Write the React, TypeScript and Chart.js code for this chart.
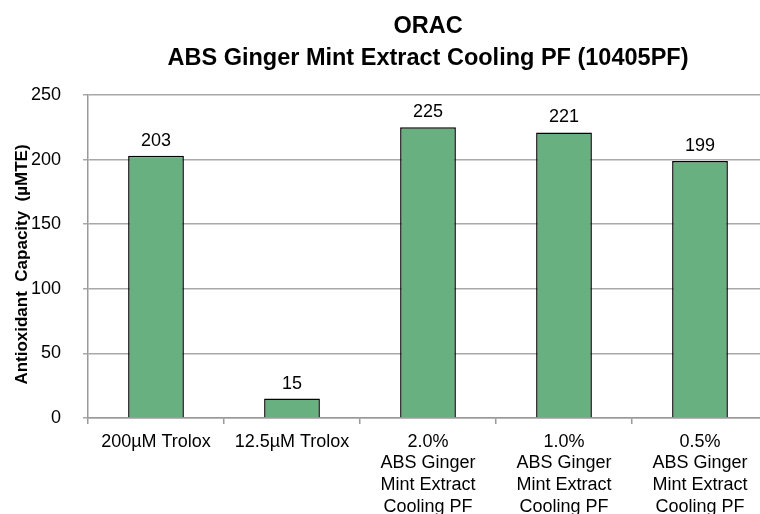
import React, { useEffect, useRef } from "react";
import { Chart, registerables } from "chart.js";

Chart.register(...registerables);

const titleLines = ["ORAC", "ABS Ginger Mint Extract Cooling PF (10405PF)"];
const categories: string[][] = [
  ["200µM Trolox"],
  ["12.5µM Trolox"],
  ["2.0%", "ABS Ginger", "Mint Extract", "Cooling PF"],
  ["1.0%", "ABS Ginger", "Mint Extract", "Cooling PF"],
  ["0.5%", "ABS Ginger", "Mint Extract", "Cooling PF"],
];
const values = [203, 15, 225, 221, 199];
const yTitle = "Antioxidant  Capacity  (µMTE)";
const yMin = 0;
const yMax = 250;
const yStep = 50;

const FONT = "'Liberation Sans', Arial, sans-serif";

const titlePlugin = {
  id: "customTitle",
  afterDraw(chart: any) {
    const { ctx, chartArea } = chart;
    const cx = (chartArea.left + chartArea.right) / 2;
    ctx.save();
    ctx.fillStyle = "#000";
    ctx.textAlign = "center";
    ctx.textBaseline = "alphabetic";
    ctx.font = `bold 23.5px ${FONT}`;
    ctx.fillText(titleLines[0], cx, 33);
    ctx.fillText(titleLines[1], cx, 65);
    // y axis title
    ctx.font = `bold 17px ${FONT}`;
    ctx.textBaseline = "middle";
    ctx.translate(22, (chartArea.top + chartArea.bottom) / 2 + 8);
    ctx.rotate(-Math.PI / 2);
    ctx.fillText(yTitle, 0, 0);
    ctx.restore();
  },
};

const labelPlugin = {
  id: "barLabels",
  afterDatasetsDraw(chart: any) {
    const { ctx } = chart;
    const meta = chart.getDatasetMeta(0);
    ctx.save();
    ctx.fillStyle = "#000";
    ctx.textAlign = "center";
    ctx.textBaseline = "alphabetic";
    ctx.font = `18px ${FONT}`;
    meta.data.forEach((bar: any, i: number) => {
      ctx.fillText(String(values[i]), bar.x, bar.y - 10);
    });
    ctx.restore();
  },
};

export default function App() {
  const ref = useRef<HTMLCanvasElement | null>(null);
  useEffect(() => {
    if (!ref.current) return;
    const chart = new Chart(ref.current, {
      type: "bar",
      data: {
        labels: categories,
        datasets: [
          {
            data: values,
            backgroundColor: "#68B07F",
            borderColor: "#000000",
            borderWidth: 1.5,
            barPercentage: 0.41,
            categoryPercentage: 1,
          },
        ],
      },
      options: {
        responsive: false,
        animation: false,
        devicePixelRatio: 1,
        layout: { padding: { top: 95, left: 0, right: 0, bottom: 0 } },
        plugins: {
          legend: { display: false },
          title: { display: false },
          tooltip: { enabled: false },
        },
        scales: {
          x: {
            offset: true,
            grid: {
              offset: true,
              drawOnChartArea: false,
              drawTicks: true,
              tickLength: 6,
              color: "#9a9a9a",
              lineWidth: 1.5,
            },
            border: { color: "#9a9a9a", width: 1.5 },
            ticks: {
              color: "#000",
              font: { family: FONT, size: 18, lineHeight: 1.2 },
              padding: 7,
              maxRotation: 0,
              autoSkip: false,
            },
            afterFit(scale: any) {
              scale.height = 96;
            },
          },
          y: {
            min: yMin,
            max: yMax,
            ticks: {
              stepSize: yStep,
              color: "#000",
              font: { family: FONT, size: 18 },
              padding: 22,
            },
            grid: {
              color: "#a8a8a8",
              lineWidth: 1.5,
              tickLength: 5,
            },
            border: { color: "#9a9a9a", width: 1.5 },
            title: { display: false },
            afterFit(scale: any) {
              scale.width = 88;
            },
          },
        },
      },
      plugins: [titlePlugin, labelPlugin],
    });
    return () => chart.destroy();
  }, []);
  return (
    <div
      style={{
        position: "fixed",
        left: 0,
        top: 0,
        width: 760,
        height: 514,
        overflow: "hidden",
        background: "#fff",
      }}
    >
      <canvas ref={ref} width={768} height={514} style={{ display: "block" }} />
    </div>
  );
}
